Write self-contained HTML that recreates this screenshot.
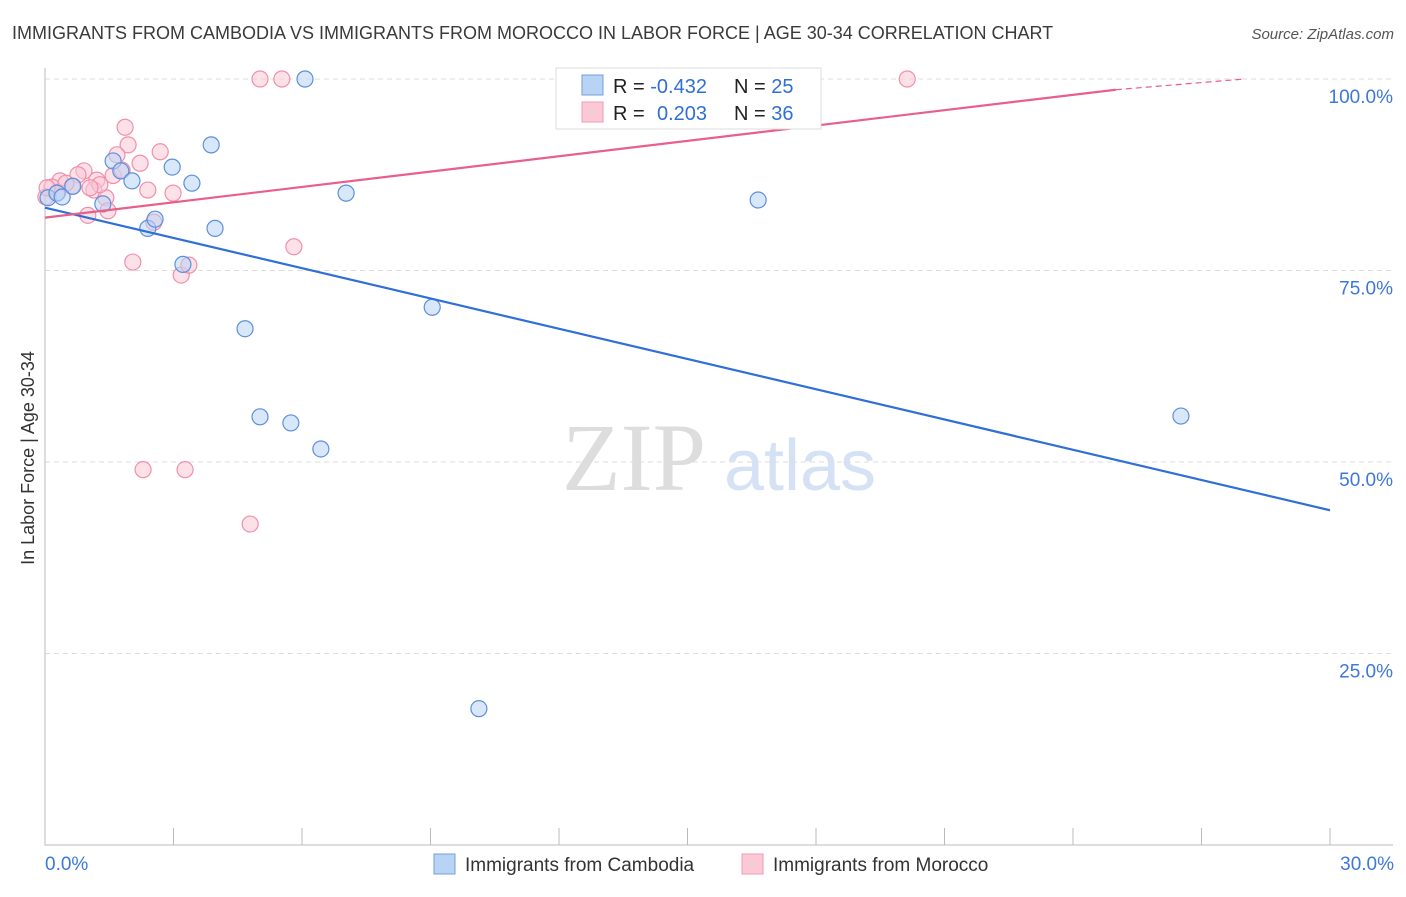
<!DOCTYPE html>
<html><head><meta charset="utf-8"><style>
body{margin:0;background:#fff;font-family:"Liberation Sans",sans-serif}
</style></head><body>
<svg id="c" width="1406" height="892" xmlns="http://www.w3.org/2000/svg" style="font-family:'Liberation Sans',sans-serif">
<text x="12" y="39" font-size="18" fill="#3a3a3a">IMMIGRANTS FROM CAMBODIA VS IMMIGRANTS FROM MOROCCO IN LABOR FORCE | AGE 30-34 CORRELATION CHART</text>
<text x="1394" y="39" font-size="15" fill="#555" font-style="italic" text-anchor="end">Source: ZipAtlas.com</text>
<text x="34" y="458" font-size="18" fill="#333" text-anchor="middle" transform="rotate(-90 34 458)">In Labor Force | Age 30-34</text>
<g><text x="634" y="490" font-size="96" fill="#ddd" font-family="'Liberation Serif',serif" text-anchor="middle">ZIP</text><text x="800" y="490" font-size="72" fill="#d5e2f5" text-anchor="middle">atlas</text></g>
<g id="grid"></g><g id="marks"></g>
<g>
<rect x="556" y="68" width="265" height="61" fill="#fff" stroke="#ddd"/>
<rect x="582" y="75" width="21" height="20" fill="#b9d3f5" stroke="#6fa0e0"/>
<rect x="582" y="102" width="21" height="20" fill="#fbc8d6" stroke="#f09ab3"/>
<text x="613" y="93" font-size="20" fill="#222">R = <tspan fill="#2f6fd6">-0.432</tspan><tspan x="734">N = </tspan><tspan fill="#2f6fd6">25</tspan></text>
<text x="613" y="120" font-size="20" fill="#222">R = <tspan x="657" fill="#2f6fd6">0.203</tspan><tspan x="734">N = </tspan><tspan fill="#2f6fd6">36</tspan></text>
</g>
<g>
<rect x="434" y="854" width="21" height="20" fill="#b9d3f5" stroke="#6fa0e0"/>
<text x="465" y="871" font-size="19" fill="#333">Immigrants from Cambodia</text>
<rect x="742" y="854" width="21" height="20" fill="#fbc8d6" stroke="#f09ab3"/>
<text x="773" y="871" font-size="19" fill="#333">Immigrants from Morocco</text>
</g>
</svg>
<script>
const blueX=[0.07,0.28,0.40,0.65,1.35,1.59,1.77,2.03,2.40,2.57,2.97,3.22,3.43,3.88,3.97,4.67,5.02,5.74,6.07,6.44,7.03,9.04,10.13,16.65,26.52];
const blueY=[84.5,85.1,84.6,86.0,83.7,89.3,88.0,86.7,80.5,81.7,88.5,75.8,86.4,91.4,80.5,67.4,55.9,55.1,100,51.7,85.1,70.2,17.8,84.2,56.0];
const pinkX=[5.02,5.53,20.13,1.87,1.94,1.68,2.69,2.22,0.91,0.77,1.59,1.21,0.35,0.63,0.16,1.14,2.40,2.99,1.42,0.02,0.30,1.00,1.47,1.80,5.81,2.05,3.18,3.36,2.29,3.27,4.79,1.28,0.49,2.54,1.05,0.05];
const pinkY=[100,100,100,93.7,91.4,90.1,90.5,89.0,88.0,87.5,87.4,86.8,86.7,86.0,85.9,85.5,85.5,85.1,84.5,84.6,85.2,82.2,82.8,88.1,78.1,76.1,74.4,75.7,49.0,49.0,41.9,86.2,86.4,81.3,85.8,85.8];
const blueTrend=[83.2,43.7];
const pinkTrend=[81.9,98.6,100.0];
const yTicks=[100,75,50,25];
const yTickLabels=["100.0%","75.0%","50.0%","25.0%"];
const xTickLabels=["0.0%","30.0%"];
const NS="http://www.w3.org/2000/svg";
const sx=v=>45+v/30*1285, sy=v=>845-v*7.66;
function mk(t,a,p){const e=document.createElementNS(NS,t);for(const k in a)e.setAttribute(k,a[k]);p.appendChild(e);return e;}
const g=document.getElementById('grid'), m=document.getElementById('marks');
yTicks.forEach((t,i)=>{
 const l=mk('line',{x1:45,x2:1393,y1:sy(t),y2:sy(t),stroke:'#ddd','stroke-dasharray':'5,4'},g);
 
 
 const tx=mk('text',{x:1393,y:sy(t)+24,'font-size':19,fill:'#3d78d8','text-anchor':'end'},g);tx.textContent=yTickLabels[i];
 
 
});
const ax=mk('path',{d:'M45 68V845H1393',fill:'none',stroke:'#bbb'},g);


for(let i=0;i<=10;i++){const t=mk('line',{x1:sx(i*3),x2:sx(i*3),y1:828,y2:845,stroke:'#bbb'},g);
 
 }
[[0,'start',45],[30,'end',1394]].forEach((d,i)=>{const t=mk('text',{x:d[2],y:870,'font-size':19,fill:'#3d78d8','text-anchor':d[1]},g);t.textContent=xTickLabels[i];
 
 });
function pts(X,Y,f,s,n){X.forEach((x,i)=>{const c=mk('circle',{cx:sx(x),cy:sy(Y[i]),r:8,fill:f,'fill-opacity':0.55,stroke:s,'stroke-width':1.2},m);
 
 });}
pts(pinkX,pinkY,'#fbc8d6','#f090ab','morocco-point');
pts(blueX,blueY,'#b9d3f5','#5b90dc','cambodia-point');
let l=mk('line',{x1:sx(0),y1:sy(blueTrend[0]),x2:sx(30),y2:sy(blueTrend[1]),stroke:'#2f6fd6','stroke-width':2.2},m);


l=mk('line',{x1:sx(0),y1:sy(pinkTrend[0]),x2:sx(25),y2:sy(pinkTrend[1]),stroke:'#e8608a','stroke-width':2.2},m);


l=mk('line',{x1:sx(25),y1:sy(pinkTrend[1]),x2:sx(28),y2:sy(pinkTrend[2]),stroke:'#e8608a','stroke-width':1.2,'stroke-dasharray':'6,4'},m);


</script>
</body></html>
